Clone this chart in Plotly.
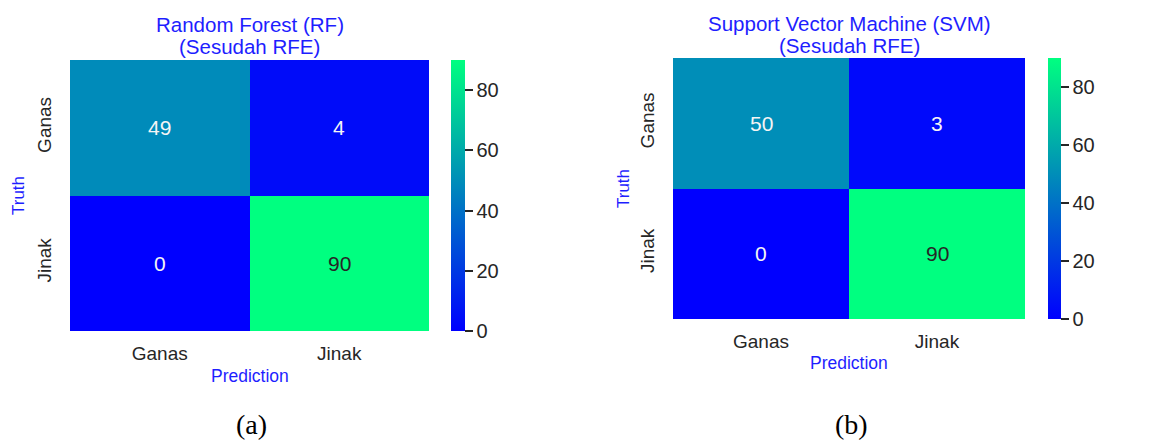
import plotly.graph_objects as go

W, H = 1158, 441

labels = ["Ganas", "Jinak"]
rf_values = [[49, 4], [0, 90]]
svm_values = [[50, 3], [0, 90]]
titles = [("Random Forest (RF)", "(Sesudah RFE)"), ("Support Vector Machine (SVM)", "(Sesudah RFE)")]
captions = ["(a)", "(b)"]
cbar_ticks = [0, 20, 40, 60, 80]

FONT = "Arial, 'Liberation Sans', sans-serif"
BLUE = "rgb(30,30,255)"
TICK = "rgb(38,38,38)"
winter = [[0, "rgb(0,0,255)"], [1, "rgb(0,255,128)"]]

def px(x):
    return x / W

def py(y):
    return 1 - y / H

# panel geometry in pixels: heatmap box (left, right, top, bottom), colorbar left, width
panels = [
    dict(box=(70, 429, 60, 331), cb=(451, 14), xt=(249.5, 25, 46), truth=(18, 196), pred=376, cap=(251, 424)),
    dict(box=(673, 1025, 58, 319), cb=(1048, 13), xt=(849, 24, 45), truth=(623, 189), pred=363, cap=(851, 424)),
]
data = [rf_values, svm_values]

fig = go.Figure()
annotations = []
for i, (p, z) in enumerate(zip(panels, data)):
    l, r, t, b = p["box"]
    xa = "x" if i == 0 else "x2"
    ya = "y" if i == 0 else "y2"
    fig.add_trace(go.Heatmap(
        z=z, x=labels, y=labels, xaxis=xa, yaxis=ya,
        zmin=0, zmax=90, colorscale=winter, xgap=0, ygap=0,
        hoverinfo="skip",
        colorbar=dict(
            x=px(p["cb"][0]), xanchor="left", xref="paper", xpad=0, ypad=0,
            y=py(t), yanchor="top", len=b - t, lenmode="pixels",
            thickness=p["cb"][1], thicknessmode="pixels",
            outlinewidth=0, tickvals=cbar_ticks, ticks="outside",
            ticklen=8, tickwidth=1.5, tickcolor=TICK,
            tickfont=dict(family=FONT, size=20, color=TICK),
        ),
    ))
    axkey = "" if i == 0 else "2"
    fig.update_layout(**{
        "xaxis" + axkey: dict(domain=[px(l), px(r)], anchor=ya, showgrid=False, zeroline=False,
                              showline=False, ticks="", ticklabelstandoff=9,
                              tickfont=dict(family=FONT, size=19, color=TICK)),
        "yaxis" + axkey: dict(domain=[py(b), py(t)], anchor=xa, showgrid=False, zeroline=False,
                              showline=False, ticks="", autorange="reversed", tickangle=-90,
                              ticklabelstandoff=14,
                              tickfont=dict(family=FONT, size=19, color=TICK)),
    })
    # cell values
    for ri, row in enumerate(z):
        for ci, v in enumerate(row):
            col = "rgb(38,38,38)" if v / 90 > 0.7 else "rgb(245,245,245)"
            annotations.append(dict(x=labels[ci], y=labels[ri], xref=xa, yref=ya, text=str(v),
                                    showarrow=False, font=dict(family=FONT, size=21, color=col)))
    cx, ty1, ty2 = p["xt"]
    annotations.append(dict(x=px(cx), y=py(ty1), xref="paper", yref="paper", text=titles[i][0],
                            showarrow=False, xanchor="center", yanchor="middle",
                            font=dict(family=FONT, size=20.5, color=BLUE)))
    annotations.append(dict(x=px(cx), y=py(ty2), xref="paper", yref="paper", text=titles[i][1],
                            showarrow=False, xanchor="center", yanchor="middle",
                            font=dict(family=FONT, size=20.5, color=BLUE)))
    annotations.append(dict(x=px(p["truth"][0]), y=py(p["truth"][1]), xref="paper", yref="paper",
                            text="Truth", textangle=-90, showarrow=False,
                            xanchor="center", yanchor="middle",
                            font=dict(family=FONT, size=17, color=BLUE)))
    annotations.append(dict(x=px(cx), y=py(p["pred"]), xref="paper", yref="paper",
                            text="Prediction", showarrow=False, xanchor="center", yanchor="middle",
                            font=dict(family=FONT, size=17.5, color=BLUE)))
    annotations.append(dict(x=px(p["cap"][0]), y=py(p["cap"][1]), xref="paper", yref="paper",
                            text=captions[i], showarrow=False, xanchor="center", yanchor="middle",
                            font=dict(family="'Liberation Serif', 'Times New Roman', serif",
                                      size=28, color="black")))

fig.update_layout(
    width=W, height=H, margin=dict(l=0, r=0, t=0, b=0),
    paper_bgcolor="white", plot_bgcolor="white",
    showlegend=False, annotations=annotations,
)

fig.write_html("out.html")
